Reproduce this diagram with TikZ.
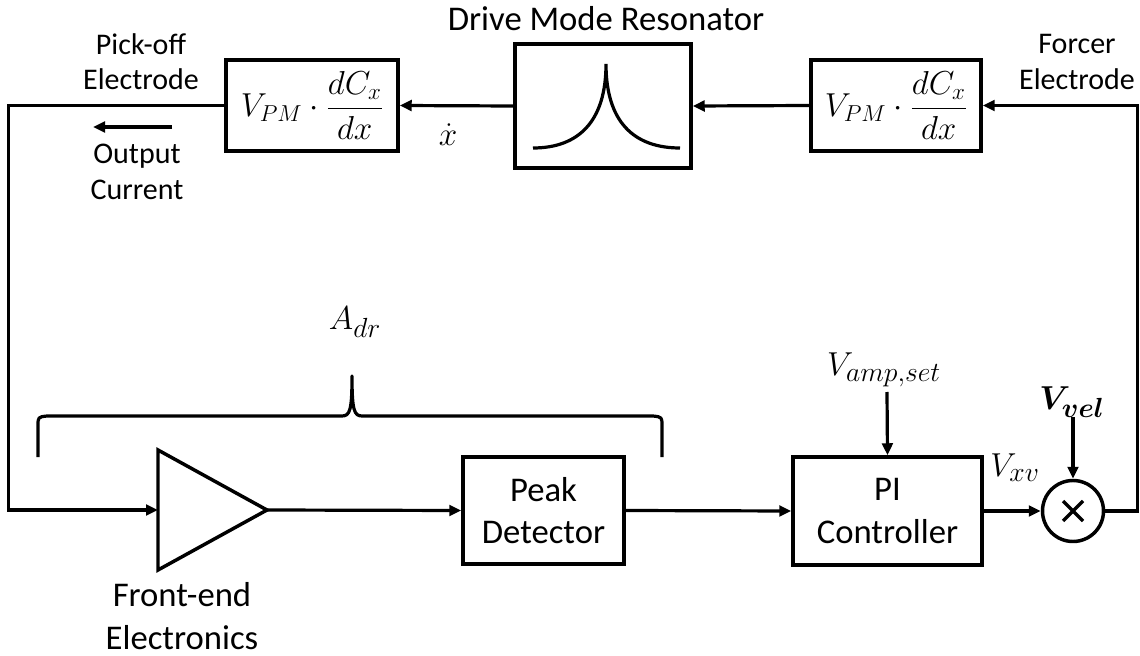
\documentclass[tikz,border=0pt]{standalone}
\usepackage{amsmath,bm}
\usepackage{fontspec}
\setmainfont{Carlito}
\DeclareMathSizes{28}{28}{20}{15}
\usetikzlibrary{arrows.meta}
\begin{document}
\begin{tikzpicture}[x=0.75pt,y=-0.75pt,
  big/.style={font=\fontsize{26}{32}\selectfont},
  small/.style={font=\fontsize{22.5}{26.5}\selectfont},
  mth/.style={font=\fontsize{24}{29}\selectfont},
  mthl/.style={font=\fontsize{28}{33}\selectfont},
  blk/.style={draw,line width=2.6pt,inner sep=0pt,align=center},
  wire/.style={line width=2.4pt},
  arr/.style={wire,-{Triangle[length=9pt,width=8pt]}},
  lbl/.style={align=center,inner sep=0pt}]
\useasboundingbox (0,0) rectangle (1140,656);
% top row
\node[blk,mth,minimum width=129pt,minimum height=68pt] (pm1) at (312,105.5) {$V_{PM}\cdot\dfrac{dC_x}{dx}$};
\node[blk,minimum width=132pt,minimum height=93pt] (res) at (603,106) {};
\node[blk,mth,minimum width=127.5pt,minimum height=68pt] (pm2) at (896,105.5) {$V_{PM}\cdot\dfrac{dC_x}{dx}$};
\node[lbl,big] (restitle) at (606,19) {Drive Mode Resonator};
\draw[wire] (533,148) .. controls (578,148) and (606,122) .. (606,64)
            .. controls (606,122) and (634,148) .. (680,148);
\node[lbl,small] (pick) at (141,62) {Pick-off\\Electrode};
\node[lbl,small] (outc) at (137,172) {Output\\Current};
\node[lbl,small] (forc) at (1077,62) {Forcer\\Electrode};
\node[lbl,mthl] (xdot) at (448,135) {$\dot{x}$};
\coordinate (oa1) at (172,127);
\coordinate (oa2) at (93,127);
\draw[arr] (oa1) -- (oa2);
% bottom row
\coordinate (ampin) at (158,510);
\coordinate (ampout) at (267,510);
\draw[line width=2.6pt] (158,450) -- (158,570) -- (ampout) -- cycle;
\node[lbl,big] (fe) at (182,616) {Front-end\\Electronics};
\node[blk,big,minimum width=120.75pt,minimum height=80pt] (pd) at (543.5,510.5) {Peak\\Detector};
\node[blk,big,minimum width=141.75pt,minimum height=81pt] (pi) at (887.5,511) {PI\\Controller};
\node[draw,circle,line width=2.6pt,minimum size=45.75pt,inner sep=0pt] (mul) at (1073,511) {};
\draw[wire] ([shift={(-10,-10)}]mul.center) -- ([shift={(10,10)}]mul.center);
\draw[wire] ([shift={(-10,10)}]mul.center) -- ([shift={(10,-10)}]mul.center);
\node[lbl,mthl] (vamp) at (884,370) {$V_{amp,set}$};
\coordinate (vampsrc) at (887,392);
\node[lbl,mthl] (vxv) at (1015,468) {$V_{xv}$};
\node[lbl,mthl] (vvel) at (1072,402) {$\bm{V}_{\bm{vel}}$};
\coordinate (vvelsrc) at (1073,417);
\node[lbl,mthl] (adr) at (355,322) {$A_{dr}$};
% brace
\draw[wire,line join=round] (38,457) -- (38,426) .. controls (38,417) .. (47,416) -- (342,416)
   .. controls (350,416) and (352,410) .. (352,376)
   .. controls (352,410) and (354,416) .. (362,416) -- (653,416)
   .. controls (662,417) .. (662,426) -- (662,457);
% connectors
\draw[arr] (pm2.west) -- (res.east);
\draw[arr] (res.west) -- (pm1.east);
\draw[arr] (pm1.west) -- ++(-216,0) |- (ampin);
\draw[arr] (ampout) -- (pd.west);
\draw[arr] (pd.east) -- (pi.west);
\draw[arr] (pi.east) -- (mul.west);
\draw[arr] (vampsrc) -- (pi.north);
\draw[arr] (vvelsrc) -- (mul.north);
\draw[arr] (mul.east) -- ++(32,0) |- (pm2.east);
\end{tikzpicture}
\end{document}
